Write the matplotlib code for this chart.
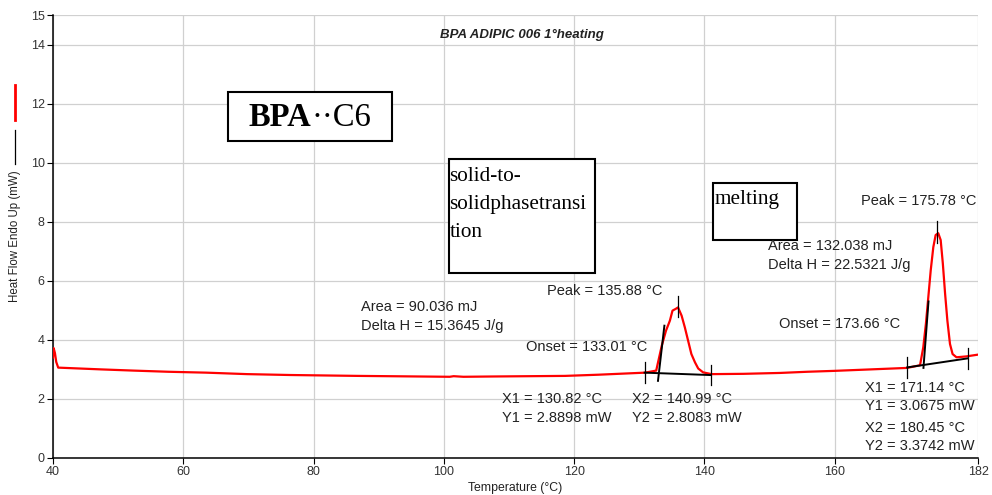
import matplotlib
matplotlib.use("Agg")
import matplotlib.pyplot as plt
from matplotlib.patches import Rectangle
from matplotlib.lines import Line2D
from matplotlib.offsetbox import TextArea, HPacker, AnnotationBbox

plt.rcParams["font.family"] = ["Liberation Sans", "DejaVu Sans"]

# ---- DSC trace (first heating) ----
temperature = [40.0, 40.1, 40.3, 40.5, 40.8, 43.0, 47.4, 52.3, 57.7, 63.5, 69.8,
               76.4, 86.8, 100.9, 101.5, 103.0, 107.5, 118.6, 123.7, 127.8, 130.9,
               132.6, 133.45, 134.1, 134.7, 135.1, 135.6, 135.95, 136.5, 137.0,
               137.5, 138.0, 138.55, 139.05, 139.8, 141.1, 146.0, 151.6, 155.8,
               159.9, 164.4, 171.1, 173.1, 173.6, 174.0, 174.37, 174.74, 175.14,
               175.5, 175.9, 176.27, 176.6, 176.95, 177.3, 177.7, 178.1, 178.7,
               180.2, 182.0]
heat_flow = [3.40, 3.72, 3.55, 3.25, 3.06, 3.04, 3.00, 2.96, 2.92, 2.89, 2.84,
             2.81, 2.78, 2.75, 2.77, 2.75, 2.76, 2.78, 2.82, 2.86, 2.89,
             2.96, 3.80, 4.31, 4.65, 4.99, 5.05, 5.10, 4.82, 4.42,
             3.97, 3.52, 3.24, 3.03, 2.90, 2.84, 2.85, 2.88, 2.92,
             2.95, 2.99, 3.05, 3.14, 3.75, 4.54, 5.44, 6.35, 7.14,
             7.55, 7.61, 7.38, 6.59, 5.56, 4.65, 3.86, 3.52, 3.41,
             3.44, 3.50]

# ---- peak analysis results ----
peak1 = dict(x1=130.82, y1=2.8898, x2=140.99, y2=2.8083, onset=133.01,
             peak=135.88, peak_hf=5.10, area=90.036, dh=15.3645,
             slope=1.9, tan_lo=-0.26, tan_hi=4.48)
peak2 = dict(x1=171.14, y1=3.0675, x2=180.45, y2=3.3742, onset=173.66,
             peak=175.78, peak_hf=7.61, area=132.038, dh=22.5321,
             slope=2.9, tan_lo=-0.1, tan_hi=5.3)

x_ticks = [40, 60, 80, 100, 120, 140, 160, 182]
y_ticks = [0, 2, 4, 6, 8, 10, 12, 14, 15]

fig = plt.figure(figsize=(9.92, 4.95), dpi=100)
ax = fig.add_axes([53 / 992, 37 / 495, 925 / 992, 443 / 495])
ax.set_xlim(40, 182)
ax.set_ylim(0, 15)
ax.set_xticks(x_ticks)
ax.set_yticks(y_ticks)
ax.grid(True, color="#d0d0d0", linewidth=0.9)
ax.set_axisbelow(True)
for s in ("top", "right"):
    ax.spines[s].set_visible(False)
for s in ("left", "bottom"):
    ax.spines[s].set_linewidth(1.1)
    ax.spines[s].set_color("black")
ax.tick_params(axis="both", labelsize=9, labelcolor="#333333", length=4,
               width=0.8, pad=2, color="black")

# heat flow curve
ax.plot(temperature, heat_flow, color="#ff0000", linewidth=1.6, zorder=3)

# baselines, tangents and markers
tick_half = 0.35
txt_kw = dict(fontsize=10.5, color="#222222", va="center", ha="left", zorder=6)
for p in (peak1, peak2):
    ax.plot([p["x1"], p["x2"]], [p["y1"], p["y2"]], color="black", lw=1.4, zorder=4)
    for xx, yy in ((p["x1"], p["y1"]), (p["x2"], p["y2"])):
        ax.plot([xx, xx], [yy - tick_half, yy + tick_half], color="black", lw=0.9, zorder=4)
    base_on = p["y1"] + (p["y2"] - p["y1"]) * (p["onset"] - p["x1"]) / (p["x2"] - p["x1"])
    lo = base_on + p["tan_lo"]
    xs = [p["onset"] + p["tan_lo"] / p["slope"], p["onset"] + (p["tan_hi"] - base_on) / p["slope"]]
    ax.plot(xs, [lo, p["tan_hi"]], color="black", lw=1.4, zorder=4)
    ax.plot([p["peak"], p["peak"]], [p["peak_hf"] - 0.33, p["peak_hf"] + 0.4],
            color="black", lw=0.9, zorder=4)

# peak 1 labels
ax.text(87.3, 5.10, f"Area = {peak1['area']:.3f} mJ", **txt_kw)
ax.text(87.3, 4.48, f"Delta H = {peak1['dh']:.4f} J/g", **txt_kw)
ax.text(115.8, 5.65, f"Peak = {peak1['peak']:.2f} °C", **txt_kw)
ax.text(112.6, 3.77, f"Onset = {peak1['onset']:.2f} °C", **txt_kw)
ax.text(108.9, 1.99, f"X1 = {peak1['x1']:.2f} °C", **txt_kw)
ax.text(108.9, 1.37, f"Y1 = {peak1['y1']:.4f} mW", **txt_kw)
ax.text(128.9, 1.99, f"X2 = {peak1['x2']:.2f} °C", **txt_kw)
ax.text(128.9, 1.37, f"Y2 = {peak1['y2']:.4f} mW", **txt_kw)

# peak 2 labels
ax.text(164.0, 8.70, f"Peak = {peak2['peak']:.2f} °C", **txt_kw)
ax.text(149.7, 7.17, f"Area = {peak2['area']:.3f} mJ", **txt_kw)
ax.text(149.7, 6.52, f"Delta H = {peak2['dh']:.4f} J/g", **txt_kw)
ax.text(151.5, 4.54, f"Onset = {peak2['onset']:.2f} °C", **txt_kw)
ax.text(164.6, 2.36, f"X1 = {peak2['x1']:.2f} °C", **txt_kw)
ax.text(164.6, 1.75, f"Y1 = {peak2['y1']:.4f} mW", **txt_kw)
ax.text(164.6, 1.03, f"X2 = {peak2['x2']:.2f} °C", **txt_kw)
ax.text(164.6, 0.42, f"Y2 = {peak2['y2']:.4f} mW", **txt_kw)

# chart title
ax.text(112.0, 14.33, "BPA ADIPIC 006 1°heating", fontsize=9.5, style="italic",
        weight="bold", color="#222222", ha="center", va="center")

# framed notes
serif = ["Liberation Serif", "DejaVu Serif"]
box_kw = dict(facecolor="white", edgecolor="black", linewidth=1.5, zorder=5)
ax.add_patch(Rectangle((66.9, 10.73), 92.0 - 66.9, 12.39 - 10.73, **box_kw))
ax.add_patch(Rectangle((100.8, 6.26), 123.2 - 100.8, 10.13 - 6.26, **box_kw))
ax.add_patch(Rectangle((141.3, 7.38), 154.2 - 141.3, 9.31 - 7.38, **box_kw))

name = HPacker(children=[
    TextArea("BPA", textprops=dict(fontsize=23.5, weight="bold", family=serif)),
    TextArea("··C6", textprops=dict(fontsize=23.5, family=serif)),
], align="baseline", pad=0, sep=0)
ax.add_artist(AnnotationBbox(name, (79.45, 11.52), frameon=False, zorder=7,
                             box_alignment=(0.5, 0.5)))

ax.text(100.85, 9.85, "solid-to-\nsolidphasetransi\ntion", family=serif,
        fontsize=15.3, va="top", ha="left", linespacing=1.63, zorder=7)
ax.text(141.5, 9.08, "melting", family=serif, fontsize=15.3, va="top",
        ha="left", zorder=7)

# axis labels with line swatches
ax.set_xlabel("Temperature (°C)", fontsize=8.8, color="#222222", labelpad=3)
fig.text(15 / 992, (495 - 236) / 495, "Heat Flow Endo Up (mW)", rotation=90,
         fontsize=8.3, color="#222222", ha="center", va="center")
fig.add_artist(Line2D([15 / 992, 15 / 992], [(495 - 85) / 495, (495 - 120) / 495],
                      color="#ff0000", lw=2))
fig.add_artist(Line2D([15 / 992, 15 / 992], [(495 - 130) / 495, (495 - 164) / 495],
                      color="black", lw=0.9))

fig.savefig("out.png", dpi=100)
